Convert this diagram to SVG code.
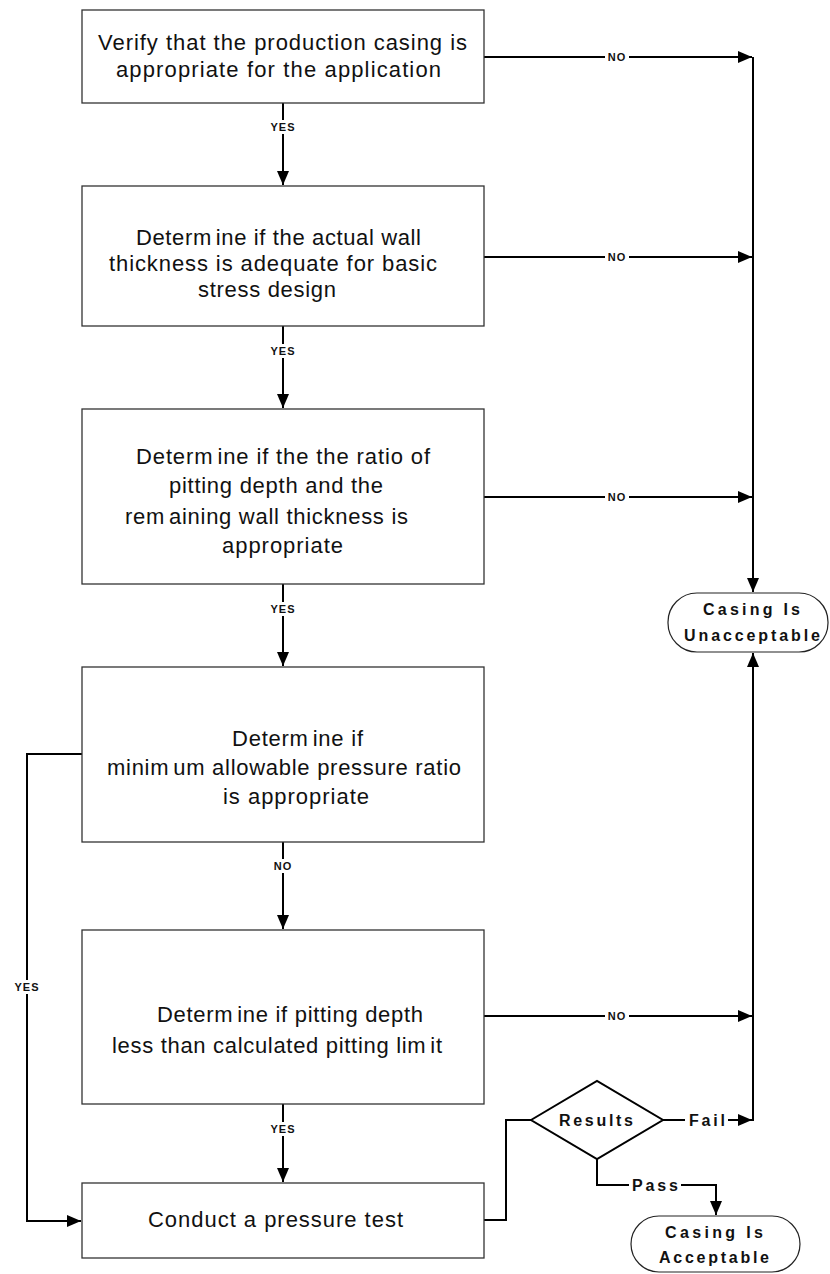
<svg xmlns="http://www.w3.org/2000/svg" width="830" height="1274" viewBox="0 0 830 1274">
<style>
.box{fill:#fff;stroke:#333;stroke-width:1.3}
.term{fill:#fff;stroke:#222;stroke-width:1.2}
.t{font-family:"Liberation Sans",Arial,sans-serif;font-size:22px;fill:#111}
.tb{font-family:"Liberation Sans",Arial,sans-serif;font-size:16px;font-weight:bold;fill:#111}
.lbl{font-family:"Liberation Sans",Arial,sans-serif;font-size:11px;font-weight:bold;fill:#111;text-anchor:middle;letter-spacing:1px}
.c{fill:none;stroke:#000;stroke-width:2}
.bg{fill:#fff}
</style>
<defs>
<marker id="ah" markerUnits="userSpaceOnUse" markerWidth="14" markerHeight="12" viewBox="0 0 14 12" refX="14" refY="6" orient="auto">
<path d="M0,0 L14,6 L0,12 Z" fill="#000"/>
</marker>
</defs>

<g id="connectors">
<!-- vertical flow -->
<path class="c" d="M283,103 V185" marker-end="url(#ah)"/>
<path class="c" d="M283,326 V408" marker-end="url(#ah)"/>
<path class="c" d="M283,584 V666" marker-end="url(#ah)"/>
<path class="c" d="M283,842 V929" marker-end="url(#ah)"/>
<path class="c" d="M283,1104 V1182" marker-end="url(#ah)"/>
<!-- NO lines -->
<path class="c" d="M484,57 H752" marker-end="url(#ah)"/>
<path class="c" d="M484,257 H752" marker-end="url(#ah)"/>
<path class="c" d="M484,497 H752" marker-end="url(#ah)"/>
<path class="c" d="M484,1016 H752" marker-end="url(#ah)"/>
<!-- right collector -->
<path class="c" d="M753,57 V592" marker-end="url(#ah)"/>
<path class="c" d="M753,1121 V653" marker-end="url(#ah)"/>
<!-- YES bypass -->
<path class="c" d="M82,754 H27 V1221 H81" marker-end="url(#ah)"/>
<!-- pressure test to results -->
<path class="c" d="M484,1220 H506 V1120 H531"/>
<!-- fail -->
<path class="c" d="M663,1120 H752" marker-end="url(#ah)"/>
<!-- pass -->
<path class="c" d="M597,1159 V1185 H716 V1215" marker-end="url(#ah)"/>

<!-- label backgrounds -->
<rect class="bg" x="268" y="120" width="30" height="14"/>
<rect class="bg" x="268" y="344" width="30" height="14"/>
<rect class="bg" x="268" y="602" width="30" height="14"/>
<rect class="bg" x="272" y="859" width="22" height="14"/>
<rect class="bg" x="268" y="1122" width="30" height="14"/>
<rect class="bg" x="12" y="980" width="30" height="14"/>
<rect class="bg" x="605" y="50" width="24" height="14"/>
<rect class="bg" x="605" y="250" width="24" height="14"/>
<rect class="bg" x="605" y="490" width="24" height="14"/>
<rect class="bg" x="605" y="1009" width="24" height="14"/>
<rect class="bg" x="685" y="1110" width="43" height="20"/>
<rect class="bg" x="629" y="1175" width="52" height="20"/>

<text class="lbl" x="283" y="131">YES</text>
<text class="lbl" x="283" y="355">YES</text>
<text class="lbl" x="283" y="613">YES</text>
<text class="lbl" x="283" y="870">NO</text>
<text class="lbl" x="283" y="1133">YES</text>
<text class="lbl" x="27" y="991">YES</text>
<text class="lbl" x="617" y="61">NO</text>
<text class="lbl" x="617" y="261">NO</text>
<text class="lbl" x="617" y="501">NO</text>
<text class="lbl" x="617" y="1020">NO</text>
<text class="tb" x="689" y="1126" textLength="36" lengthAdjust="spacing">Fail</text>
<text class="tb" x="632" y="1191" textLength="46" lengthAdjust="spacing">Pass</text>
</g>

<g id="node-verify">
<rect class="box" x="82" y="10" width="402" height="93"/>
<text class="t" x="98" y="50" textLength="369" lengthAdjust="spacing">Verify that the production casing is</text>
<text class="t" x="116" y="77" textLength="325" lengthAdjust="spacing">appropriate for the application</text>
</g>

<g id="node-wall">
<rect class="box" x="82" y="186" width="402" height="140"/>
<text class="t" x="136" y="245" textLength="285" lengthAdjust="spacing">Determ<tspan dx="4">ine if the actual wall</tspan></text>
<text class="t" x="109" y="271" textLength="328" lengthAdjust="spacing">thickness is adequate for basic</text>
<text class="t" x="198" y="297" textLength="138" lengthAdjust="spacing">stress design</text>
</g>

<g id="node-ratio">
<rect class="box" x="82" y="409" width="402" height="175"/>
<text class="t" x="136" y="464" textLength="294" lengthAdjust="spacing">Determ<tspan dx="4">ine if the the ratio of</tspan></text>
<text class="t" x="169" y="493" textLength="214" lengthAdjust="spacing">pitting depth and the</text>
<text class="t" x="125" y="524" textLength="283" lengthAdjust="spacing">rem<tspan dx="4">aining wall thickness is</tspan></text>
<text class="t" x="222" y="553" textLength="121" lengthAdjust="spacing">appropriate</text>
</g>

<g id="node-pressure-ratio">
<rect class="box" x="82" y="667" width="402" height="175"/>
<text class="t" x="232" y="746" textLength="131" lengthAdjust="spacing">Determ<tspan dx="4">ine if</tspan></text>
<text class="t" x="107" y="775" textLength="354" lengthAdjust="spacing">minim<tspan dx="4">um allowable pressure ratio</tspan></text>
<text class="t" x="223" y="804" textLength="146" lengthAdjust="spacing">is appropriate</text>
</g>

<g id="node-pitting">
<rect class="box" x="82" y="930" width="402" height="174"/>
<text class="t" x="157" y="1022" textLength="266" lengthAdjust="spacing">Determ<tspan dx="4">ine if pitting depth</tspan></text>
<text class="t" x="112" y="1053" textLength="330" lengthAdjust="spacing">less than calculated pitting lim<tspan dx="4">it</tspan></text>
</g>

<g id="node-test">
<rect class="box" x="82" y="1183" width="402" height="75"/>
<text class="t" x="148" y="1227" textLength="255" lengthAdjust="spacing">Conduct a pressure test</text>
</g>

<g id="node-results">
<path class="box" d="M531,1120 L597,1081 L663,1120 L597,1159 Z" style="stroke:#000;stroke-width:2"/>
<text class="tb" x="559" y="1126" textLength="74" lengthAdjust="spacing">Results</text>
</g>

<g id="node-unacceptable">
<rect class="term" x="668" y="593" width="160" height="59" rx="29" ry="29"/>
<text class="tb" x="703" y="615" textLength="97" lengthAdjust="spacing">Casing Is</text>
<text class="tb" x="684" y="641" textLength="136" lengthAdjust="spacing">Unacceptable</text>
</g>

<g id="node-acceptable">
<rect class="term" x="631" y="1216" width="169" height="56" rx="28" ry="28"/>
<text class="tb" x="665" y="1238" textLength="98" lengthAdjust="spacing">Casing Is</text>
<text class="tb" x="659" y="1263" textLength="110" lengthAdjust="spacing">Acceptable</text>
</g>
</svg>
